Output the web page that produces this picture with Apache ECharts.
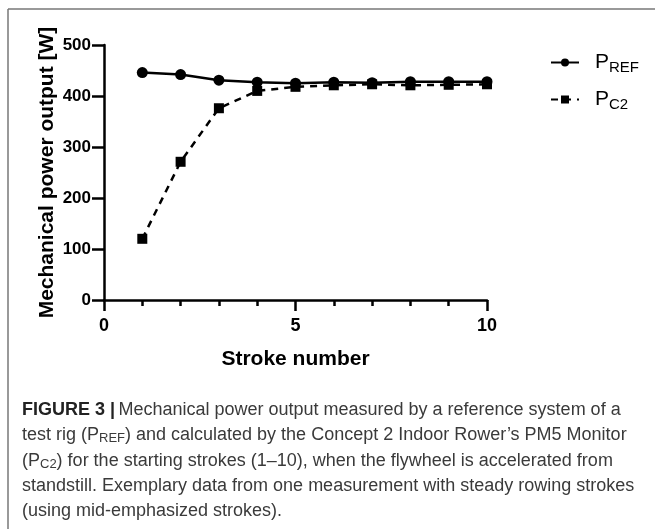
<!DOCTYPE html>
<html>
<head>
<meta charset="utf-8">
<script src="https://cdn.jsdelivr.net/npm/echarts@6/dist/echarts.min.js"></script>
<style>
  html, body { margin: 0; padding: 0; background: #fff; }
  #chart { width: 655px; height: 529px; }
</style>
</head>
<body>
<div id="chart"></div>
<script>
// stroke numbers and power values (W)
const strokes = [1, 2, 3, 4, 5, 6, 7, 8, 9, 10];
const pRef = [446, 442, 431, 427, 425, 427, 426, 428, 428, 428];
const pC2 = [120, 271, 376, 410, 418, 421, 423, 421, 422, 423];
const yTicks = [0, 100, 200, 300, 400, 500];
const xTicks = [0, 5, 10];

const captionLines = [
  '{b|FIGURE 3 |} {n|Mechanical power output measured by a reference system of a}',
  '{n|test rig (P}{s|REF}{n|) and calculated by the Concept 2 Indoor Rower\u2019s PM5 Monitor}',
  '{n|(P}{s|C2}{n|) for the starting strokes (1\u201310), when the flywheel is accelerated from}',
  '{n|standstill. Exemplary data from one measurement with steady rowing strokes}',
  '{n|(using mid-emphasized strokes).}'
];

const font = '"Liberation Sans", Arial, sans-serif';
const chart = echarts.init(document.getElementById('chart'));

const pair = (xs, ys) => xs.map((x, i) => [x, ys[i]]);

chart.setOption({
  animation: false,
  textStyle: { fontFamily: font },
  grid: { left: 104, right: 168, top: 45, bottom: 229 },
  legend: {
    orient: 'vertical',
    left: 545,
    top: 47,
    itemWidth: 28,
    itemHeight: 10,
    itemGap: 14,
    data: ['REF', 'C2'],
    formatter: name => '{p|P}{s|' + name + '}',
    textStyle: {
      padding: [0, 0, 0, 11],
      rich: {
        p: { fontFamily: font, fontSize: 21, color: '#000' },
        s: { fontFamily: font, fontSize: 15, color: '#000', verticalAlign: 'bottom', padding: [10, 0, 0, 0] }
      }
    }
  },
  xAxis: {
    type: 'value',
    min: 0,
    max: 10,
    interval: 5,
    name: 'Stroke number',
    nameLocation: 'middle',
    nameGap: 49,
    nameTextStyle: { fontSize: 21, fontWeight: 'bold', color: '#000', fontFamily: font },
    axisLine: { lineStyle: { color: '#000', width: 2.5 } },
    axisTick: { length: 11, lineStyle: { color: '#000', width: 2.5 } },
    minorTick: { show: true, splitNumber: 5, length: 6, lineStyle: { color: '#000', width: 2.5 } },
    axisLabel: {
      margin: 17, fontSize: 18, fontWeight: 'bold', color: '#000',
      formatter: v => xTicks.includes(v) ? String(v) : ''
    },
    splitLine: { show: false }
  },
  yAxis: {
    type: 'value',
    min: 0,
    max: 500,
    interval: 100,
    name: 'Mechanical power output [W]',
    nameLocation: 'middle',
    nameGap: 46,
    nameMoveOverlap: false,
    nameTextStyle: { fontSize: 21, fontWeight: 'bold', color: '#000', fontFamily: font },
    axisLine: { show: true, lineStyle: { color: '#000', width: 2.5 } },
    axisTick: { show: true, length: 12, lineStyle: { color: '#000', width: 2.5 } },
    axisLabel: {
      margin: 13, fontSize: 17, fontWeight: 'bold', color: '#000',
      formatter: v => yTicks.includes(v) ? String(v) : ''
    },
    splitLine: { show: false }
  },
  series: [
    {
      name: 'REF',
      type: 'line',
      data: pair(strokes, pRef),
      symbol: 'circle',
      symbolSize: 11,
      z: 3,
      itemStyle: { color: '#000' },
      lineStyle: { color: '#000', width: 2.5 }
    },
    {
      name: 'C2',
      type: 'line',
      data: pair(strokes, pC2),
      symbol: 'rect',
      symbolSize: 10,
      z: 2,
      itemStyle: { color: '#000' },
      lineStyle: { color: '#000', width: 2.5, type: [7, 6] }
    }
  ],
  graphic: [
    { type: 'line', shape: { x1: 8, y1: 9, x2: 655, y2: 9 }, style: { stroke: '#777', lineWidth: 1.5 } },
    { type: 'line', shape: { x1: 8, y1: 9, x2: 8, y2: 529 }, style: { stroke: '#777', lineWidth: 1.5 } },
    ...captionLines.map((line, i) => ({
      type: 'text',
      left: 22,
      top: 401 + i * 25.3,
      style: {
        text: line,
        rich: {
          b: { fontFamily: font, fontWeight: 'bold', fontSize: 18, fill: '#222' },
          n: { fontFamily: font, fontSize: 18, fill: '#3a3a3a' },
          s: { fontFamily: font, fontSize: 13, fill: '#3a3a3a', verticalAlign: 'bottom', padding: [7, 0, 0, 0] }
        }
      }
    }))
  ]
});
</script>
</body>
</html>
